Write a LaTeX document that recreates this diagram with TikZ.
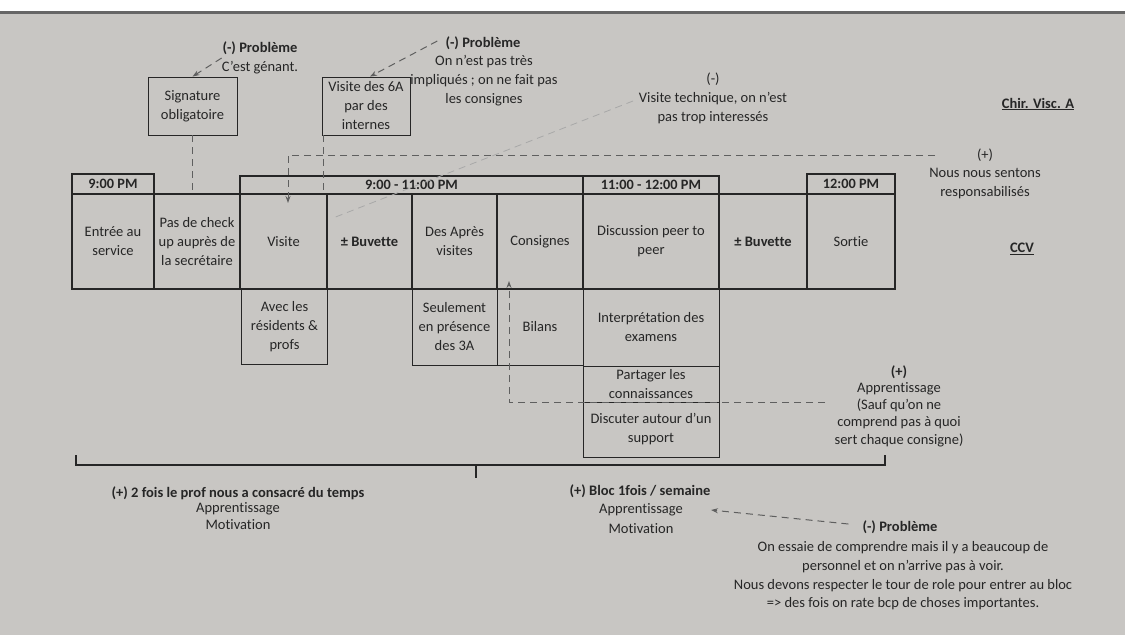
\documentclass[tikz,border=0pt]{standalone}
\usepackage{fontspec}
\setmainfont{Carlito}[Ligatures=NoCommon]
\usetikzlibrary{arrows.meta}
\definecolor{paper}{RGB}{200,198,195}
\definecolor{ink}{RGB}{38,38,38}
\definecolor{dashgray}{RGB}{95,95,95}
\definecolor{faint}{RGB}{168,168,168}
\begin{document}
\begin{tikzpicture}[x=1pt,y=-1pt,
  every node/.style={font=\fontsize{14.5}{19}\selectfont, text=ink, align=center, inner sep=0pt},
  cell/.style={draw=ink, line width=1.6pt, minimum height=95},
  head/.style={draw=ink, line width=1.6pt, font=\fontsize{14.3}{19}\selectfont\bfseries},
  sub/.style={draw=ink, line width=0.9pt},
  conn/.style={draw=dashgray, line width=1pt, dash pattern=on 7pt off 5pt},
  faintconn/.style={draw=faint, line width=0.8pt, dash pattern=on 7pt off 5pt},
  tip/.style={-{Stealth[length=7pt,width=5pt]}},
  brace/.style={draw=ink, line width=1.4pt},
]
\useasboundingbox (0,0) rectangle (1125,635);
% sheet of paper
\fill[paper] (0,0) rectangle (1125,635);
\fill[white] (0,0) rectangle (1125,11);
\fill[black!60] (0,11) rectangle (1125,14);

% time headers
\node[head, minimum width=82,  minimum height=20] (h1) at (113,184)   {9:00 PM};
\node[head, minimum width=343, minimum height=18] (h2) at (411.5,185) {9:00 - 11:00 PM};
\node[head, minimum width=136, minimum height=18] (h3) at (651,185)   {11:00 - 12:00 PM};
\node[head, minimum width=88,  minimum height=20] (h4) at (851,184)   {12:00 PM};

% main row of steps
\node[cell, minimum width=82]  (entree)  at (113,241.5)   {Entrée au\\service};
\node[cell, minimum width=86]  (check)   at (197,241.5)   {Pas de check\\up auprès de\\la secrétaire};
\node[cell, minimum width=87]  (visite)  at (283.5,241.5) {Visite};
\node[cell, minimum width=85]  (buv1)    at (369.5,241.5) {\textbf{± Buvette}};
\node[cell, minimum width=85]  (apres)   at (454.5,241.5) {Des Après\\visites};
\node[cell, minimum width=86]  (consig)  at (540,241.5)   {Consignes};
\node[cell, minimum width=136] (discus)  at (651,241.5)   {Discussion peer to\\peer};
\node[cell, minimum width=88]  (buv2)    at (763,241.5)   {\textbf{± Buvette}};
\node[cell, minimum width=88]  (sortie)  at (851,241.5)   {Sortie};

% details below the steps
\node[sub, minimum width=86,  minimum height=75] (avec)    at (284.5,326.5) {Avec les\\résidents \&\\profs};
\node[sub, minimum width=85,  minimum height=76] (seul)    at (454.5,327)   {Seulement\\en présence\\des 3A};
\node[sub, minimum width=86,  minimum height=76] (bilans)  at (540,327)     {Bilans};
\node[sub, minimum width=136, minimum height=77] (interp)  at (651,327.5)   {Interprétation des\\examens};
\node[sub, minimum width=136, minimum height=36] (partag)  at (651,384)     {Partager les\\connaissances};
\node[sub, minimum width=136, minimum height=55] (discut)  at (651,429.5)   {Discuter autour d'un\\support};

% boxes above the row
\node[sub, minimum width=89, minimum height=58] (sig) at (192.5,106) {Signature\\obligatoire};
\node[sub, minimum width=88, minimum height=58] (v6a) at (366,106)   {Visite des 6A\\par des\\internes};

% remarks
\node (prob1)  at (260,58)  {\textbf{(-) Problème}\\C'est génant.};
\node (prob2t) at (483,43)  {\textbf{(-) Problème}};
\node (prob2b) at (484,81)  {On n'est pas très\\impliqués ; on ne fait pas\\les consignes};
\node (vistech) at (713,98) {(-)\\Visite technique, on n'est\\pas trop interessés};
\node (chir)   at (1038,104) {\textbf{\underline{Chir. Visc. A}}};
\node (plus1t) at (985,155)  {(+)};
\node (plus1b) at (985,183.5) {Nous nous sentons\\responsabilisés};
\node (ccv)    at (1022,249) {\textbf{\underline{CCV}}};
\node (plus2t) at (899,372)  {\textbf{(+)}};
\node[font=\fontsize{14.5}{17.2}\selectfont] (plus2b) at (899,414.5)
  {Apprentissage\\(Sauf qu'on ne\\comprend pas à quoi\\sert chaque consigne)};

\node (prof)   at (238,493) {\textbf{(+) 2 fois le prof nous a consacré du temps}};
\node[font=\fontsize{14.5}{17}\selectfont] (profb) at (238,516.5) {Apprentissage\\Motivation};
\node (bloc)   at (640,491) {\textbf{(+) Bloc 1fois / semaine}};
\node (blocA)  at (641,510) {Apprentissage};
\node (blocM)  at (641,529) {Motivation};
\node (prob3t) at (900,527) {\textbf{(-) Problème}};
\node[font=\fontsize{14.5}{18.7}\selectfont] (prob3b) at (903,576)
  {On essaie de comprendre mais il y a beaucoup de\\personnel et on n'arrive pas à voir.\\Nous devons respecter le tour de role pour entrer au bloc\\=> des fois on rate bcp de choses importantes.};

% free ends of the long dashed links
\coordinate (r1)   at (935,155);
\coordinate (vin)  at (288,203);
\coordinate (r2)   at (825,402);
\coordinate (cin)  at (509,281);
\coordinate (tech) at (633,101);
\coordinate (tin)  at (333,218);

% dashed links
\draw[conn, tip] (prob1.west) -- (sig.north);
\draw[conn, tip] ([xshift=-8pt,yshift=2pt]prob2t.west) -- ([xshift=4pt]v6a.north);
\draw[conn] (sig.south) -- (sig.south |- check.north);
\draw[conn] ([xshift=2pt]v6a.south west) -- ([xshift=2pt]v6a.south west |- buv1.north);
\draw[conn, tip] (r1) -| (vin);
\draw[conn, tip] (r2) -| (cin);
\draw[faintconn] (tech) -- (tin);
\draw[conn, tip] ([xshift=-14pt,yshift=3pt]prob3t.west) -- ([xshift=28pt]blocA.east);

% bracket under the day
\draw[brace] (76,455) -- (76,465) -- (885,465) -- (885,455);
\draw[brace] (476,465) -- (476,478);
\end{tikzpicture}
\end{document}
